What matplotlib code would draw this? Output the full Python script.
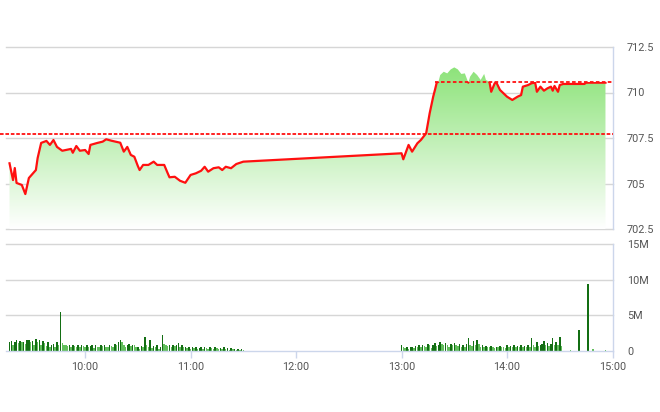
import numpy as np
import matplotlib
matplotlib.use("Agg")
import matplotlib.pyplot as plt
from matplotlib.colors import LinearSegmentedColormap
from matplotlib.patches import Rectangle

# ---------------- data ----------------
price_times = [
    "09:17", "09:19", "09:20", "09:21", "09:24", "09:26", "09:28", "09:32", "09:33", "09:35",
    "09:38", "09:40", "09:42", "09:44", "09:47", "09:52", "09:53", "09:55", "09:57", "10:00",
    "10:02", "10:03", "10:07", "10:10", "10:12", "10:15", "10:20", "10:22", "10:24", "10:26",
    "10:28", "10:30", "10:31", "10:33", "10:36", "10:39", "10:41", "10:45", "10:47", "10:48",
    "10:51", "10:54", "10:57", "11:00", "11:03", "11:06", "11:08", "11:10", "11:13", "11:16",
    "11:18", "11:20", "11:23", "11:26", "11:30",
    "13:00", "13:01", "13:04", "13:06", "13:09", "13:11", "13:14", "13:16", "13:18", "13:19",
    "13:20", "13:21", "13:22", "13:24", "13:26", "13:28", "13:30", "13:32", "13:34", "13:36",
    "13:38", "13:39", "13:41", "13:43", "13:45", "13:47", "13:48", "13:50", "13:51", "13:53",
    "13:54", "13:56", "14:00", "14:03", "14:06", "14:08", "14:09", "14:12", "14:14", "14:16",
    "14:17", "14:19", "14:21", "14:23", "14:25", "14:26", "14:27", "14:29", "14:30", "14:32",
    "14:44", "14:45", "14:56",
]
price_values = [
    706.11, 705.19, 705.85, 705.03, 704.92, 704.42, 705.30, 705.74, 706.40, 707.23,
    707.34, 707.12, 707.39, 707.01, 706.80, 706.90, 706.69, 707.06, 706.80, 706.84,
    706.62, 707.12, 707.23, 707.30, 707.43, 707.35, 707.24, 706.75, 707.01, 706.57,
    706.47, 705.96, 705.74, 706.02, 706.02, 706.20, 706.02, 706.02, 705.56, 705.34,
    705.37, 705.15, 705.04, 705.47, 705.56, 705.70, 705.92, 705.65, 705.84, 705.89,
    705.74, 705.92, 705.84, 706.07, 706.20,
    706.66, 706.33, 707.12, 706.75, 707.21, 707.39, 707.76, 708.86, 709.77, 710.14,
    710.54, 710.59, 710.96, 711.14, 711.05, 711.27, 711.38, 711.27, 711.02, 711.05,
    710.54, 710.87, 711.14, 710.96, 710.69, 711.02, 710.69, 710.59, 710.04, 710.51,
    710.54, 710.14, 709.77, 709.59, 709.77, 709.86, 710.32, 710.41, 710.51, 710.54,
    710.04, 710.32, 710.10, 710.23, 710.32, 710.10, 710.36, 710.04, 710.41, 710.47,
    710.47, 710.54, 710.54,
]
ref_price = 707.72
last_price = 710.56
last_line_start = "13:19"

# volumes in millions, one bar per minute
vol_am_start = "09:17"
vol_am = [
    1.2, 1.4, 0.9, 1.3, 1.5, 1.1, 1.4, 1.2, 1.3, 1.0,
    1.5, 1.6, 1.2, 1.4, 0.8, 1.7, 1.3, 1.6, 0.9, 1.4,
    1.1, 0.7, 1.3, 0.5, 0.9, 1.0, 0.6, 1.2, 0.8, 5.5,
    1.1, 0.9, 0.8, 0.7, 0.9, 0.6, 0.8, 0.7, 0.5, 0.9,
    0.6, 0.8, 0.7, 0.5, 0.9, 0.6, 0.7, 0.8, 0.4, 0.9,
    0.6, 0.5, 0.8, 0.7, 0.9, 0.6, 0.5, 0.8, 0.7, 0.6,
    1.0, 0.9, 1.3, 1.6, 1.2, 0.8, 0.6, 0.9, 1.0, 0.7,
    0.9, 0.8, 0.5, 0.6, 0.3, 0.7, 0.5, 2.0, 0.8, 0.6,
    1.6, 0.4, 0.7, 0.5, 0.9, 0.3, 0.6, 2.2, 1.0, 0.8,
    0.7, 0.8, 0.6, 0.9, 0.7, 0.8, 1.1, 0.6, 0.9, 0.5,
    0.6, 0.4, 0.5, 0.3, 0.6, 0.4, 0.5, 0.3, 0.4, 0.5,
    0.3, 0.5, 0.4, 0.3, 0.6, 0.4, 0.3, 0.5, 0.4, 0.3,
    0.4, 0.3, 0.5, 0.3, 0.4, 0.2, 0.4, 0.3, 0.3, 0.2,
    0.3, 0.2, 0.3, 0.2,
]
vol_pm_start = "13:00"
vol_pm = [
    0.9, 0.5, 0.4, 0.6, 0.3, 0.5, 0.6, 0.4, 0.7, 0.5,
    0.8, 0.6, 0.9, 0.7, 0.5, 1.0, 0.8, 0.4, 0.9, 1.1,
    0.7, 0.9, 1.2, 1.0, 0.8, 1.1, 0.9, 0.6, 1.0, 0.8,
    1.1, 0.9, 0.7, 1.0, 0.5, 0.8, 0.6, 1.0, 1.8, 0.9,
    0.7, 1.4, 0.8, 1.5, 1.0, 0.6, 0.9, 0.5, 0.7, 0.6,
    0.5, 0.7, 0.6, 0.4, 0.6, 0.5, 0.7, 0.6, 0.5, 0.4,
    0.8, 0.6, 0.7, 0.5, 0.9, 0.6, 0.7, 0.5, 0.8, 0.6,
    0.7, 0.5, 0.9, 0.6, 1.8, 0.8, 0.6, 1.2, 0.7, 0.9,
    1.0, 1.4, 0.8, 1.1, 0.7, 1.0, 1.8, 0.9, 1.3, 0.8,
    2.0, 0.7,
]
vol_late_times = ["14:36", "14:41", "14:46", "14:49", "14:56"]
vol_late = [0.1, 3.0, 9.4, 0.3, 0.1]

price_ticks = [702.5, 705, 707.5, 710, 712.5]
price_tick_labels = ["702.5", "705", "707.5", "710", "712.5"]
vol_ticks = [0, 5, 10, 15]
vol_tick_labels = ["0", "5M", "10M", "15M"]
time_ticks = ["10:00", "11:00", "12:00", "13:00", "14:00", "15:00"]
x_start, x_end = "09:15", "15:00"


def to_h(s):
    h, m = s.split(":")
    return int(h) + int(m) / 60.0


plt.rcParams["font.family"] = ["Roboto", "DejaVu Sans"]
LABEL_C = "#555555"
GRID_C = "#d6d6d6"
AXIS_C = "#ccd6eb"
FS = 7.8

fig = plt.figure(figsize=(6.6, 4.12), dpi=100)
L = 6 / 660
W = 606.5 / 660
ax1 = fig.add_axes([L, 1 - 229 / 412, W, 182 / 412])
ax2 = fig.add_axes([L, 1 - 351 / 412, W, 107 / 412])

xmin, xmax = to_h(x_start), to_h(x_end)

# ---------------- price panel ----------------
px = np.array([to_h(t) for t in price_times])
py = np.array(price_values)
ymin, ymax = price_ticks[0], price_ticks[-1]

poly = ax1.fill_between(px, py, ymin, facecolor="none", edgecolor="none")
cmap = LinearSegmentedColormap.from_list("g", ["#ffffff", "#8de37a"])
grad = np.linspace(0, 1, 256).reshape(-1, 1)
im = ax1.imshow(grad, extent=[xmin, xmax, ymin, py.max()], origin="lower",
                aspect="auto", cmap=cmap, zorder=1, interpolation="bicubic")
im.set_clip_path(poly.get_paths()[0], transform=ax1.transData)

ln, = ax1.plot(px, py, color="#ff1010", lw=1.6, zorder=3, solid_joinstyle="round")
clip_rect = Rectangle((xmin, ymin - 5), xmax - xmin + 1, last_price - ymin + 5,
                      transform=ax1.transData)
ln.set_clip_path(clip_rect)

ax1.plot([to_h(last_line_start), xmax], [last_price, last_price], color="#ff1010",
         lw=1.3, ls=(0, (2, 1.3)), zorder=4, clip_on=False)
ax1.axhline(ref_price, xmin=-0.01, xmax=1.0, color="#ff1010", lw=1.3,
            ls=(0, (2, 1)), zorder=4, clip_on=False)

for t in price_ticks:
    ax1.axhline(t, color=GRID_C, lw=1, zorder=0, clip_on=False)

ax1.set_xlim(xmin, xmax)
ax1.set_ylim(ymin, ymax)
ax1.set_yticks(price_ticks)
ax1.set_yticklabels(price_tick_labels)
ax1.yaxis.tick_right()
ax1.tick_params(axis="y", length=0, pad=10.5, labelsize=FS, labelcolor=LABEL_C)
ax1.set_xticks([])
for s in ["top", "left", "bottom"]:
    ax1.spines[s].set_visible(False)
ax1.spines["right"].set_color(AXIS_C)
ax1.spines["right"].set_linewidth(1)

# ---------------- volume panel ----------------
vx, vy = [], []
t0 = to_h(vol_am_start)
for i, v in enumerate(vol_am):
    vx.append(t0 + i / 60.0)
    vy.append(v)
t1 = to_h(vol_pm_start)
for i, v in enumerate(vol_pm):
    vx.append(t1 + i / 60.0)
    vy.append(v)
for t, v in zip(vol_late_times, vol_late):
    vx.append(to_h(t))
    vy.append(v)

colors = []
prev = 0
for v in vy:
    colors.append("#136e13" if v >= prev else "#62bf5c")
    prev = v

ax2.bar(vx, vy, width=0.85 / 60, color=colors, linewidth=0, zorder=2)
for t in vol_ticks[1:]:
    ax2.axhline(t, color=GRID_C, lw=1, zorder=0, clip_on=False)

ax2.set_xlim(xmin, xmax)
ax2.set_ylim(0, 15)
ax2.set_yticks(vol_ticks)
ax2.set_yticklabels(vol_tick_labels)
ax2.yaxis.tick_right()
ax2.tick_params(axis="y", length=0, pad=10.5, labelsize=FS, labelcolor=LABEL_C)
ax2.set_xticks([to_h(t) for t in time_ticks])
ax2.set_xticklabels(time_ticks)
ax2.tick_params(axis="x", length=5, width=1, color=AXIS_C, pad=3,
                labelsize=FS, labelcolor=LABEL_C)
for s in ["top", "left"]:
    ax2.spines[s].set_visible(False)
ax2.spines["right"].set_color(AXIS_C)
ax2.spines["bottom"].set_color(AXIS_C)
ax2.spines["right"].set_linewidth(1)
ax2.spines["bottom"].set_linewidth(1)

fig.savefig("out.png", dpi=100, facecolor="white")
